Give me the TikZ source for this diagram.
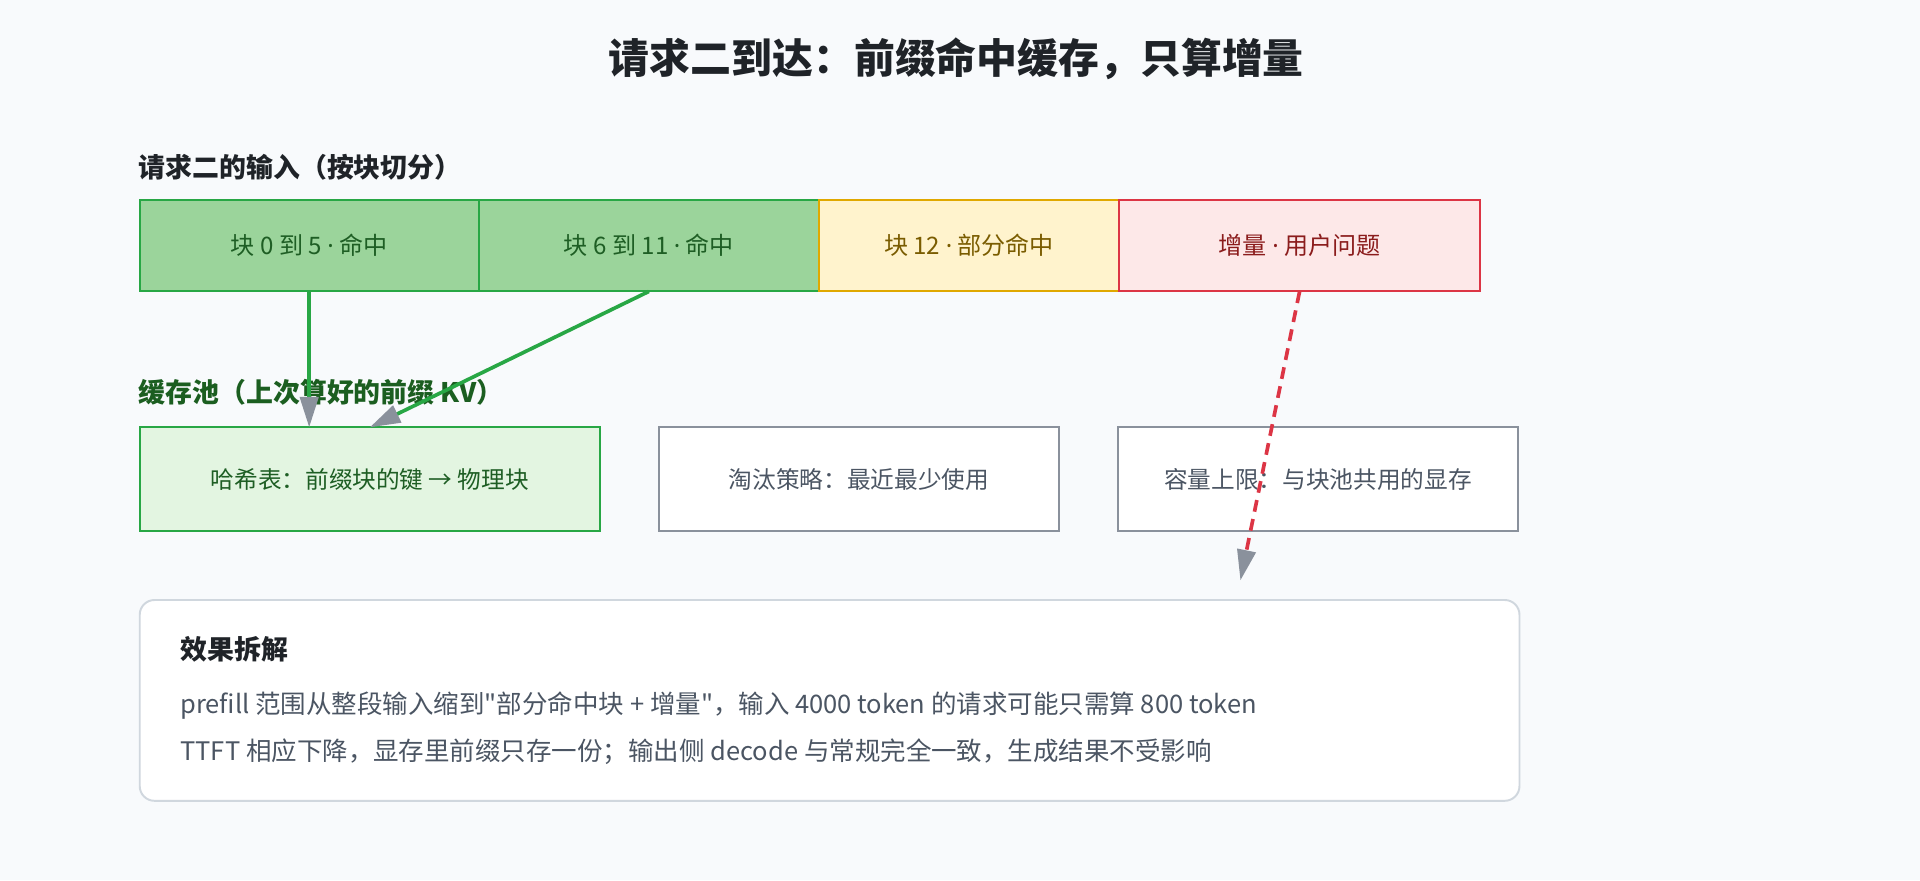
\documentclass[tikz,border=0pt]{standalone}
\usepackage{fontspec}
\setmainfont{Noto Sans CJK SC}
\newfontfamily\latinfont{Noto Sans}
\usepackage{tikz}
\usetikzlibrary{arrows.meta,positioning}
\definecolor{pagebg}{HTML}{F8FAFC}
\definecolor{hitfill}{HTML}{9BD49B}
\definecolor{hitline}{HTML}{28A745}
\definecolor{hittext}{HTML}{1E5E24}
\definecolor{partfill}{HTML}{FFF3CD}
\definecolor{partline}{HTML}{E0A800}
\definecolor{parttext}{HTML}{7A5C00}
\definecolor{deltafill}{HTML}{FDE8E8}
\definecolor{deltaline}{HTML}{DC3545}
\definecolor{deltatext}{HTML}{8B1C1C}
\definecolor{poolfill}{HTML}{E3F5E1}
\definecolor{greyline}{HTML}{8A919C}
\definecolor{greytext}{HTML}{4B5563}
\definecolor{titletext}{HTML}{1F2328}
\definecolor{pooltext}{HTML}{1B5E20}
\definecolor{cardline}{HTML}{D0D7DE}
\tikzstyle{chunk} = [draw,line width=0.9pt,rectangle,inner sep=0,outer sep=0,minimum height=1.5cm,font=\fontsize{11.2}{14}\selectfont]
\tikzstyle{hit} = [chunk,fill=hitfill,draw=hitline,text=hittext]
\tikzstyle{partial} = [chunk,fill=partfill,draw=partline,text=parttext]
\tikzstyle{delta} = [chunk,fill=deltafill,draw=deltaline,text=deltatext]
\tikzstyle{poolbox} = [draw=greyline,line width=0.9pt,fill=white,rectangle,inner sep=0,outer sep=0,minimum height=1.7cm,minimum width=6.54cm,text=greytext,font=\fontsize{11}{13}\selectfont]
\tikzstyle{heading} = [anchor=west,inner sep=0,font=\bfseries\fontsize{12.5}{15}\selectfont]
\tikzstyle{bodyline} = [anchor=west,inner sep=0,text=greytext,font=\fontsize{11.85}{15}\selectfont]
\tikzstyle{reuse} = [-{Triangle[length=0.5cm,width=0.3cm,color=greyline]},line width=1.7pt,color=hitline]
\def \gap {0.96cm}
\def \md {{\latinfont ·}}

\begin{document}
\begin{tikzpicture}[x=0.02cm,y=-0.02cm]
      \fill[pagebg] (0,0) rectangle (1568,718.7);
      \useasboundingbox (0,0) rectangle (1568,718.7);
      \node[inner sep=0,text=titletext,font=\bfseries\fontsize{19}{23}\selectfont] (title) at (781,48) {请求二到达：前缀命中缓存，只算增量};
      % input row
      \node[heading,text=titletext] (inlabel) at (113,137) {请求二的输入（按块切分）};
      \node[hit,minimum width=5.54cm] (c0) at (252.5,200.5) {块 0 到 5 \md{} 命中};
      \node[hit,minimum width=5.56cm,right=0pt of c0] (c6) {块 6 到 11 \md{} 命中};
      \node[partial,minimum width=4.9cm,right=0pt of c6] (c12) {块 12 \md{} 部分命中};
      \node[delta,minimum width=5.9cm,right=0pt of c12] (inc) {增量 \md{} 用户问题};
      % cache pool row
      \node[heading,text=pooltext] (poollabel) at (113,320) {缓存池（上次算好的前缀 KV）};
      \node[poolbox,fill=poolfill,draw=hitline,text=hittext,minimum width=7.52cm] (hash) at (302,391.5) {哈希表：前缀块的键 → 物理块};
      \node[poolbox,right=\gap of hash] (evict) {淘汰策略：最近最少使用};
      \node[poolbox,right=\gap of evict] (cap) {容量上限：与块池共用的显存};
      \coordinate (incend) at (1013,474);
      \draw[reuse] (c0.south) -- (c0.south |- hash.north);
      \draw[reuse] (c6.south) -- (hash.north);
      \draw[reuse,color=deltaline,dash pattern=on 5.5pt off 3.5pt] (inc.south) -- (incend);
      % summary card
      \node[draw=cardline,line width=0.9pt,fill=white,rounded corners=0.24cm,minimum width=22.54cm,minimum height=3.28cm,inner sep=0] (card) at (677.5,572) {};
      \node[heading,text=titletext] (cardhead) at (147,530) {效果拆解};
      \node[bodyline] (line1) at (147,576) {prefill 范围从整段输入缩到\textquotedbl 部分命中块 + 增量\textquotedbl ，输入 4000 token 的请求可能只需算 800 token};
      \node[bodyline] (line2) at (147,614) {TTFT 相应下降，显存里前缀只存一份；输出侧 decode 与常规完全一致，生成结果不受影响};
    \end{tikzpicture}
\end{document}
